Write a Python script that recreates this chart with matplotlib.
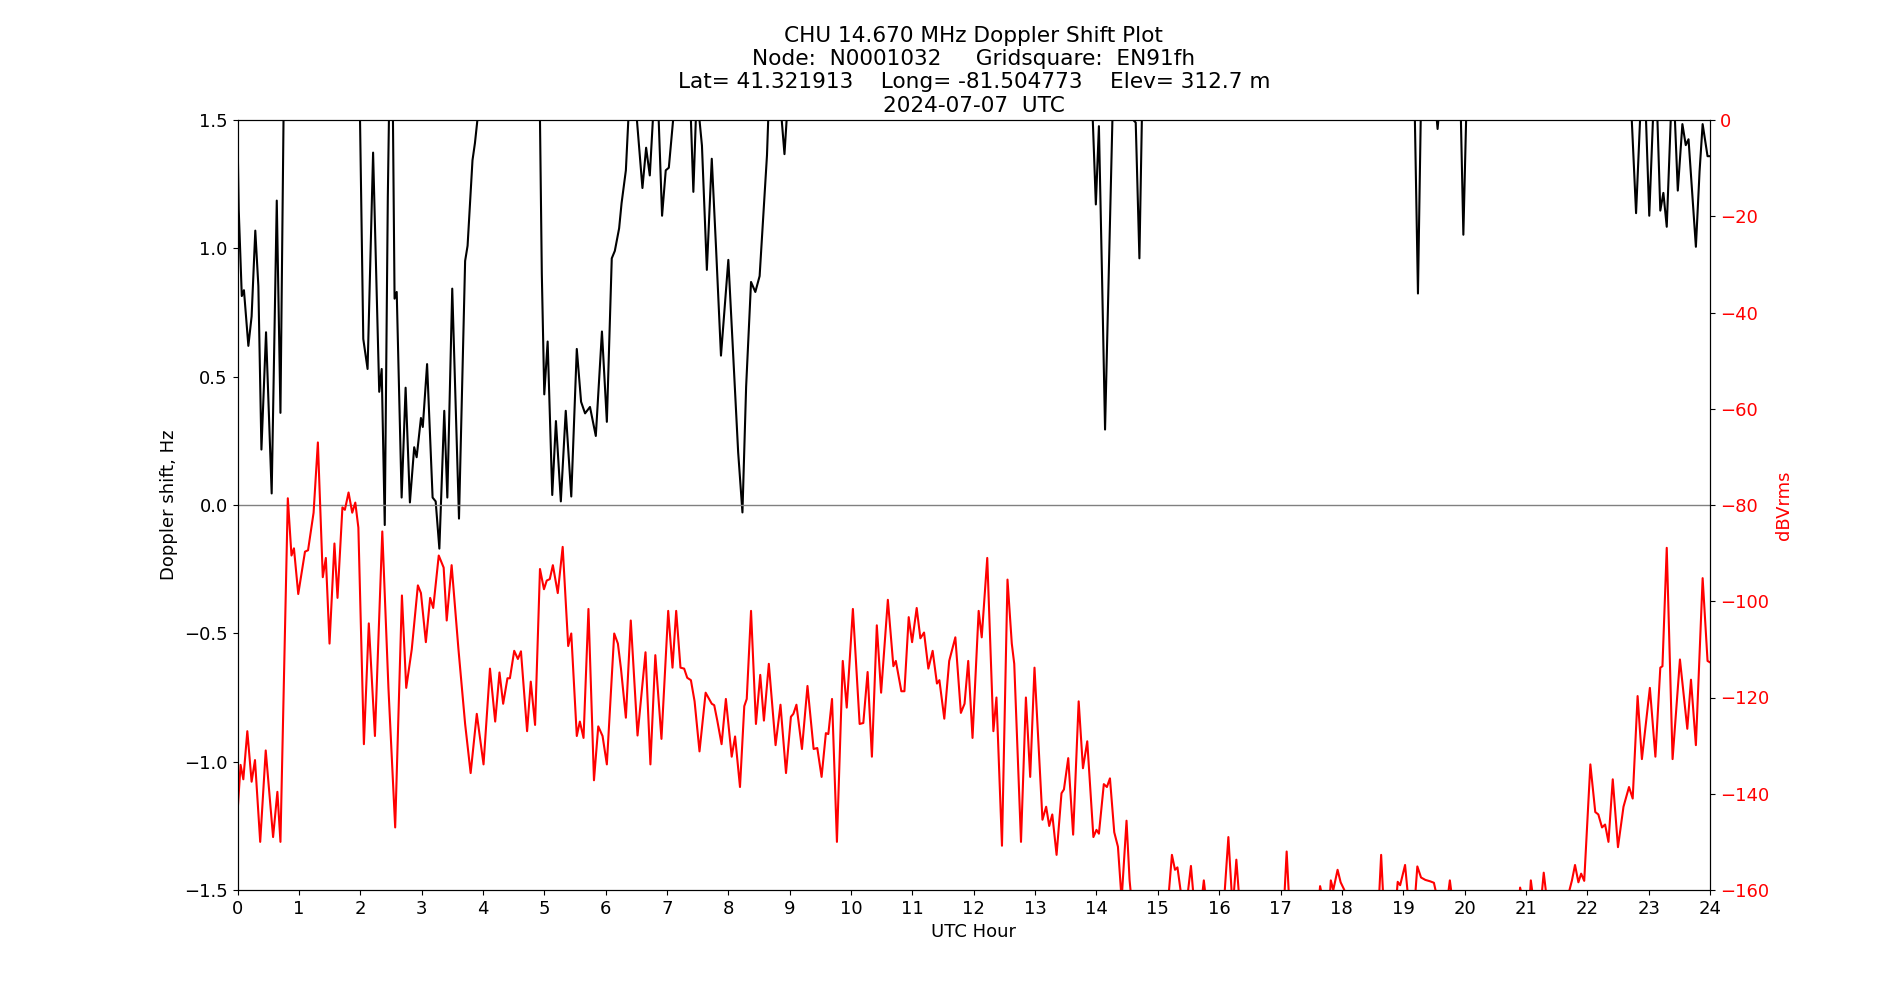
import numpy as np
import matplotlib
matplotlib.use("Agg")
import matplotlib.pyplot as plt

# Doppler shift (hour, Hz); values > 1.5 run off the top of the axes
doppler = [
    (0.0, 1.45), (0.02, 1.15), (0.07, 0.814), (0.105, 0.837), (0.177, 0.62), (0.23, 0.735),
    (0.29, 1.069), (0.34, 0.853), (0.39, 0.216), (0.465, 0.673), (0.557, 0.045), (0.64, 1.186),
    (0.70, 0.359), (0.75, 1.5), (0.9, 2.0), (1.9, 2.0), (1.997, 1.5), (2.05, 0.647), (2.12, 0.53),
    (2.21, 1.373), (2.31, 0.441), (2.35, 0.53), (2.40, -0.078), (2.45, 1.2), (2.48, 1.7),
    (2.53, 1.6), (2.56, 0.804), (2.595, 0.83), (2.675, 0.029), (2.74, 0.457), (2.81, 0.01),
    (2.88, 0.225), (2.92, 0.186), (2.99, 0.339), (3.02, 0.304), (3.09, 0.549), (3.18, 0.029),
    (3.23, 0.014), (3.29, -0.17), (3.37, 0.367), (3.42, 0.029), (3.50, 0.843), (3.61, -0.053),
    (3.71, 0.951), (3.75, 1.01), (3.83, 1.343), (3.87, 1.41), (3.91, 1.5), (4.0, 1.9),
    (4.9, 1.9), (4.93, 1.5), (4.96, 0.9), (5.00, 0.431), (5.055, 0.637), (5.13, 0.039),
    (5.19, 0.327), (5.27, 0.014), (5.35, 0.367), (5.44, 0.033), (5.53, 0.608), (5.60, 0.402),
    (5.665, 0.357), (5.745, 0.382), (5.84, 0.269), (5.94, 0.676), (6.02, 0.324), (6.10, 0.961),
    (6.15, 0.99), (6.22, 1.078), (6.26, 1.176), (6.33, 1.304), (6.37, 1.5), (6.45, 1.7),
    (6.51, 1.5), (6.60, 1.235), (6.66, 1.392), (6.72, 1.284), (6.77, 1.5), (6.85, 1.6),
    (6.92, 1.127), (6.98, 1.304), (7.03, 1.314), (7.10, 1.5), (7.25, 1.8), (7.39, 1.5),
    (7.43, 1.22), (7.47, 1.5), (7.51, 1.55), (7.57, 1.4), (7.65, 0.916), (7.73, 1.349),
    (7.80, 1.0), (7.88, 0.582), (8.00, 0.955), (8.11, 0.441), (8.16, 0.206), (8.23, -0.029),
    (8.29, 0.461), (8.37, 0.869), (8.44, 0.83), (8.51, 0.892), (8.58, 1.167), (8.63, 1.363),
    (8.65, 1.5), (8.75, 1.7), (8.87, 1.5), (8.915, 1.367), (8.95, 1.5), (9.1, 1.9),
    (13.8, 1.9), (13.94, 1.5), (13.99, 1.171), (14.04, 1.476), (14.09, 0.9), (14.14, 0.294),
    (14.20, 0.9), (14.26, 1.5), (14.4, 1.9), (14.60, 1.5), (14.64, 1.49), (14.70, 0.961),
    (14.74, 1.5), (14.9, 1.9), (19.1, 1.9), (19.19, 1.5), (19.24, 0.824), (19.285, 1.5),
    (19.4, 1.8), (19.54, 1.52), (19.56, 1.465), (19.58, 1.52), (19.8, 1.8), (19.94, 1.5),
    (19.98, 1.053), (20.025, 1.5), (20.2, 1.9), (22.6, 1.9), (22.725, 1.5), (22.795, 1.137),
    (22.86, 1.5), (22.95, 1.55), (23.01, 1.127), (23.07, 1.5), (23.13, 1.6), (23.19, 1.147),
    (23.24, 1.216), (23.295, 1.084), (23.36, 1.5), (23.42, 1.55), (23.475, 1.225),
    (23.55, 1.484), (23.605, 1.402), (23.65, 1.425), (23.70, 1.25), (23.77, 1.006),
    (23.83, 1.3), (23.88, 1.484), (23.96, 1.359), (24.0, 1.359),
]

# Received level (hour, dBVrms); values < -160 fall below the axes
level = [
    (0.0, -144), (0.05, -134), (0.095, -137), (0.16, -127), (0.23, -137.5), (0.285, -133),
    (0.37, -150), (0.46, -131), (0.58, -149), (0.65, -139.6), (0.70, -150), (0.82, -78.6),
    (0.88, -90.5), (0.92, -89), (0.99, -98.5), (1.10, -89.7), (1.15, -89.4), (1.24, -81.6),
    (1.31, -67), (1.39, -95), (1.44, -91), (1.50, -108.8), (1.58, -88), (1.63, -99.3),
    (1.71, -80.5), (1.75, -81), (1.81, -77.4), (1.87, -81.6), (1.92, -79.5), (1.97, -84.7),
    (2.06, -129.7), (2.14, -104.6), (2.24, -128), (2.36, -85.5), (2.46, -118), (2.57, -147),
    (2.68, -98.8), (2.75, -118), (2.84, -110), (2.94, -96.7), (2.99, -98.3), (3.07, -108.5),
    (3.14, -99.3), (3.19, -101.4), (3.28, -90.5), (3.36, -93), (3.41, -104), (3.49, -92.5),
    (3.60, -109.8), (3.71, -125.5), (3.80, -135.7), (3.90, -123.4), (4.01, -133.9),
    (4.115, -114), (4.20, -125), (4.27, -114.8), (4.33, -121.3), (4.40, -116), (4.44, -116),
    (4.51, -110.3), (4.57, -112), (4.62, -110.4), (4.72, -127), (4.78, -116.7), (4.85, -125.7),
    (4.93, -93.3), (4.995, -97.5), (5.04, -95.7), (5.09, -95.4), (5.14, -92.5), (5.22, -98.3),
    (5.30, -88.7), (5.39, -109.3), (5.44, -106.7), (5.53, -128), (5.58, -125), (5.64, -128.4),
    (5.72, -101.6), (5.81, -137.2), (5.88, -126), (5.95, -128), (6.02, -133.9), (6.14, -106.7),
    (6.20, -108.8), (6.25, -114), (6.33, -124.2), (6.41, -104), (6.52, -127.9), (6.65, -110.6),
    (6.73, -133.9), (6.81, -111.2), (6.91, -128.6), (7.02, -102), (7.09, -113.8), (7.15, -102),
    (7.22, -113.8), (7.28, -114), (7.33, -115.9), (7.39, -116.4), (7.45, -120.8), (7.53, -131.2),
    (7.63, -119), (7.66, -119.7), (7.73, -121.3), (7.77, -121.6), (7.82, -124.8), (7.89, -129.7),
    (7.96, -120.3), (8.055, -132.3), (8.11, -128.1), (8.19, -138.6), (8.26, -121.8),
    (8.30, -120.3), (8.37, -102), (8.45, -125.5), (8.52, -115.3), (8.58, -124.8), (8.66, -113),
    (8.77, -129.9), (8.85, -121.5), (8.94, -135.7), (9.02, -124), (9.06, -123.4), (9.11, -121.5),
    (9.20, -130.7), (9.29, -117.6), (9.39, -130.7), (9.45, -130.5), (9.52, -136.5),
    (9.59, -127.4), (9.63, -127.6), (9.69, -120.3), (9.77, -150), (9.865, -112.4),
    (9.93, -122.1), (10.03, -101.6), (10.14, -125.5), (10.20, -125.3), (10.27, -114.7),
    (10.34, -132.3), (10.42, -105), (10.49, -119), (10.60, -99.7), (10.69, -113.5),
    (10.73, -112.4), (10.82, -118.7), (10.87, -118.7), (10.94, -103.3), (10.995, -108.5),
    (11.07, -101.4), (11.13, -107.7), (11.19, -106.5), (11.26, -114), (11.33, -110.3),
    (11.40, -117.1), (11.44, -116.4), (11.52, -124.4), (11.60, -112.4), (11.70, -107.5),
    (11.79, -123.2), (11.85, -121.3), (11.91, -112.4), (11.98, -128.4), (12.08, -102),
    (12.13, -107.5), (12.22, -91), (12.32, -127), (12.37, -120), (12.46, -150.8), (12.55, -95.5),
    (12.62, -108.8), (12.66, -113), (12.77, -150), (12.85, -120), (12.92, -136.5),
    (12.99, -113.8), (13.12, -145.4), (13.18, -142.7), (13.23, -146.7), (13.28, -144.3),
    (13.35, -152.7), (13.43, -139.9), (13.47, -139.1), (13.54, -132.6), (13.62, -148.5),
    (13.71, -120.8), (13.78, -134.7), (13.85, -129.1), (13.95, -149), (14.00, -147.5),
    (14.04, -148.3), (14.12, -138), (14.17, -138.6), (14.22, -136.8), (14.29, -148),
    (14.35, -151), (14.41, -162), (14.49, -145.6), (14.54, -158), (14.60, -166), (15.1, -166),
    (15.18, -160.5), (15.23, -152.7), (15.28, -155.8), (15.32, -155.3), (15.37, -160),
    (15.45, -162), (15.49, -160.5), (15.54, -155), (15.58, -161), (15.68, -166), (15.75, -158),
    (15.82, -166), (16.06, -166), (16.15, -149), (16.22, -164), (16.28, -153.7), (16.34, -164),
    (16.42, -166), (17.0, -166), (17.06, -162), (17.10, -152), (17.14, -162), (17.2, -166),
    (17.60, -166), (17.645, -159.2), (17.69, -162), (17.78, -166), (17.82, -158), (17.86, -160),
    (17.93, -155.8), (17.98, -158.4), (18.04, -160), (18.08, -163), (18.55, -166), (18.60, -163),
    (18.64, -152.7), (18.68, -163), (18.73, -166), (18.86, -166), (18.91, -158.3), (18.95, -159),
    (19.03, -154.8), (19.09, -163), (19.15, -166), (19.19, -162), (19.23, -155.1),
    (19.29, -157.4), (19.36, -157.9), (19.44, -158.2), (19.50, -158.5), (19.56, -162),
    (19.60, -166), (19.70, -164), (19.76, -158), (19.82, -164), (19.9, -166), (20.86, -166),
    (20.905, -159.5), (20.95, -162), (21.04, -166), (21.08, -158), (21.12, -162), (21.22, -166),
    (21.29, -156.4), (21.35, -163), (21.62, -166), (21.69, -161), (21.75, -158), (21.80, -154.8),
    (21.855, -158.4), (21.90, -156.6), (21.95, -158.1), (22.05, -133.9), (22.13, -143.8),
    (22.18, -144.3), (22.24, -147), (22.29, -146.4), (22.345, -150), (22.415, -137),
    (22.50, -151.1), (22.59, -142.7), (22.68, -138.6), (22.74, -141), (22.82, -119.7),
    (22.89, -132.8), (23.02, -118), (23.11, -132.3), (23.19, -113.8), (23.225, -113.5),
    (23.295, -88.9), (23.39, -132.8), (23.51, -112.1), (23.63, -126.5), (23.69, -116.3),
    (23.77, -129.9), (23.88, -95.2), (23.96, -112.4), (24.0, -112.7),
]

title_lines = ["CHU 14.670 MHz Doppler Shift Plot",
               "Node:  N0001032     Gridsquare:  EN91fh",
               "Lat= 41.321913    Long= -81.504773    Elev= 312.7 m",
               "2024-07-07  UTC"]

dop_hour, dop_hz = np.array(doppler).T
db_hour, db_val = np.array(level).T

plt.rcParams['font.size'] = 13

fig, ax1 = plt.subplots(figsize=(19, 10), dpi=100)

ax1.plot(dop_hour, dop_hz, color='black', linewidth=1.5)
ax1.axhline(0, color='gray', linewidth=1)
ax1.set_xlim(0, 24)
ax1.set_ylim(-1.5, 1.5)
ax1.set_xticks(range(0, 25))
ax1.set_yticks(np.arange(-1.5, 1.51, 0.5))
ax1.set_xlabel('UTC Hour')
ax1.set_ylabel('Doppler shift, Hz')
ax1.set_title("\n".join(title_lines))

# level on a second axis
ax2 = ax1.twinx()
ax2.plot(db_hour, db_val, color='red', linewidth=1.5)
ax2.set_ylim(-160, 0)
ax2.set_ylabel('dBVrms', color='red')
ax2.tick_params(axis='y', labelcolor='red')

fig.savefig('out.png')
